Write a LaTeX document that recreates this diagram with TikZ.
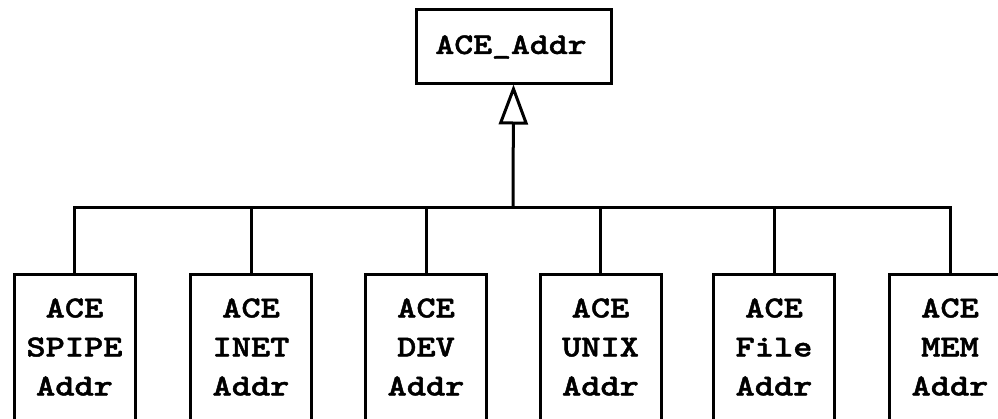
\documentclass[tikz,border=0pt]{standalone}
\usepackage{fontspec}
\newfontfamily\codefont{Latin Modern Mono Light}[FakeStretch=1.2, FakeBold=1.5]
\usetikzlibrary{arrows.meta}
\begin{document}
\begin{tikzpicture}[x=1pt,y=1pt,
  line width=3pt,
  boxshape/.style={draw, rectangle, inner sep=0pt, minimum width=121pt, minimum height=170pt, anchor=north},
  toptext/.style={font=\codefont\bfseries\fontsize{30}{39}\selectfont, inner sep=0pt},
  childtext/.style={font=\codefont\bfseries\fontsize{30.5}{39}\selectfont, inner sep=0pt, align=center},
  topbox/.style={draw, rectangle, inner sep=0pt, minimum width=195pt, minimum height=74pt},
  inherit/.style={-{Triangle[open, length=40pt, width=29pt, line width=3pt]}}
]
\clip (0,0) rectangle (998,-418);
\fill[white] (0,0) rectangle (998,-418);
\node[topbox] (top) at (513.5,-46) {};
\node[toptext] (toplabel) at (511,-47) {ACE\_Addr};
\coordinate (bus) at (513,-207);
\foreach \n/\x/\t in {1/74.5/SPIPE, 2/251/INET, 3/426/DEV, 4/600.5/UNIX, 5/774/File, 6/950/MEM}{
  \node[boxshape] (c\n) at (\x,-273) {};
  \node[childtext] (t\n) at (\x,-347) {ACE\\\t\\Addr};
}
\draw[inherit] (bus) -- (top.south);
\foreach \n in {1,...,6}{
  \draw (c\n.north) |- (bus);
}
\end{tikzpicture}
\end{document}
